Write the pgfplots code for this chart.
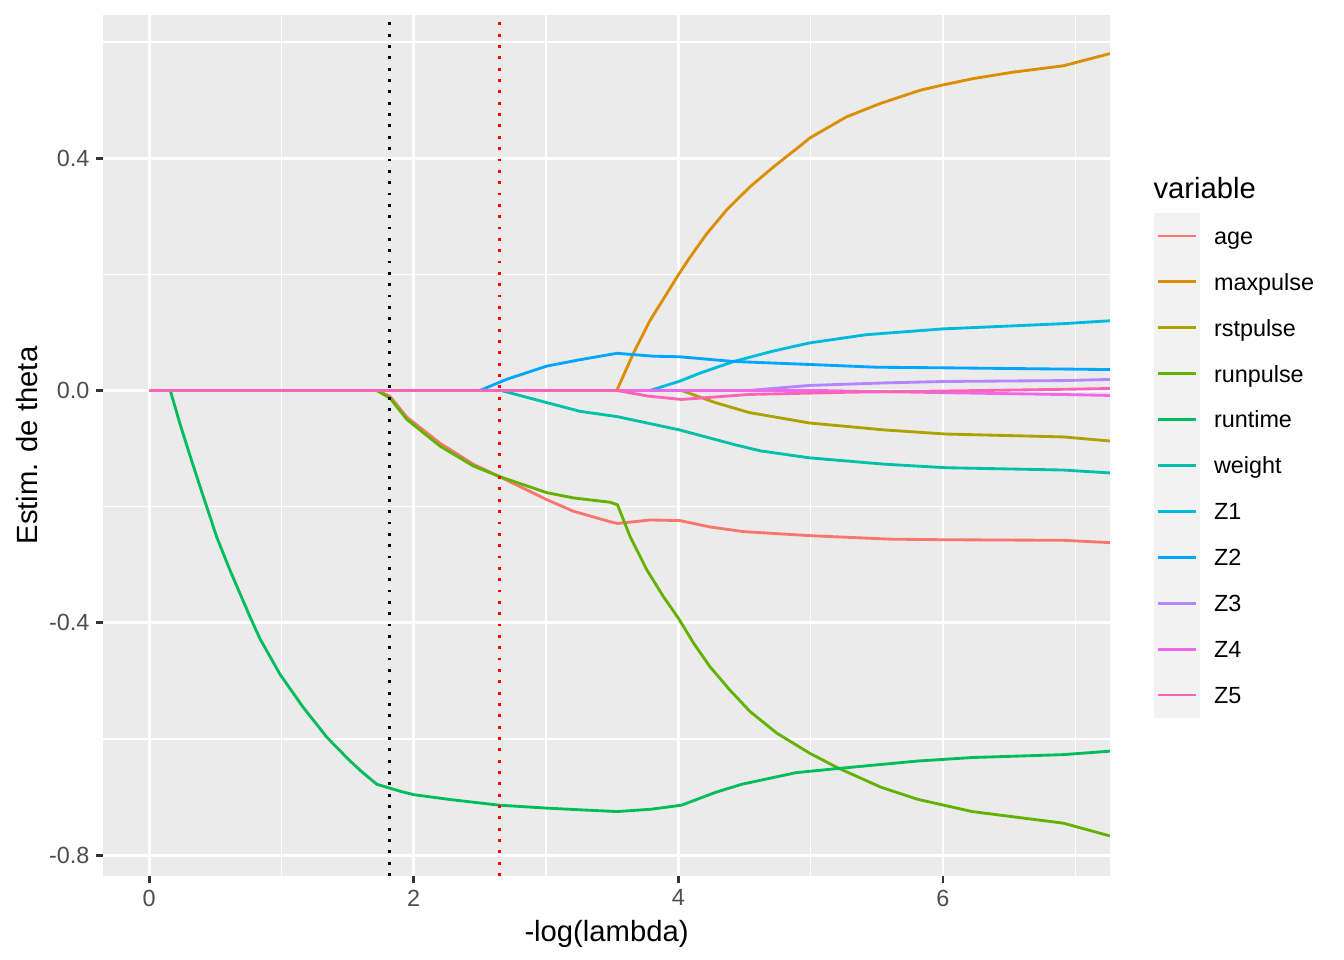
\documentclass[border=0pt]{standalone}
\usepackage{fontspec}
\setmainfont{Liberation Sans}
\usepackage{pgfplots}
\pgfplotsset{compat=1.18}

\definecolor{panelbg}{HTML}{EBEBEB}
\definecolor{keybg}{HTML}{F2F2F2}
\definecolor{gray30}{HTML}{4D4D4D}
\definecolor{gray20}{HTML}{333333}
\definecolor{cage}{HTML}{F8766D}
\definecolor{cmaxpulse}{HTML}{DB8E00}
\definecolor{crstpulse}{HTML}{AEA200}
\definecolor{crunpulse}{HTML}{64B200}
\definecolor{cruntime}{HTML}{00BD5C}
\definecolor{cweight}{HTML}{00C1A7}
\definecolor{cZ1}{HTML}{00BADE}
\definecolor{cZ2}{HTML}{00A6FF}
\definecolor{cZ3}{HTML}{B385FF}
\definecolor{cZ4}{HTML}{EF67EB}
\definecolor{cZ5}{HTML}{FF63B6}

\begin{document}
\begin{tikzpicture}
  % page = 7in x 5in, panel placed at its measured offset
  \path[use as bounding box] (-38.8pt,-31.6pt) rectangle (467.1pt,329.75pt);

  \begin{axis}[
      at={(0,0)}, anchor=south west,
      scale only axis,
      width=379pt, height=324.1pt,
      xmin=-0.348, xmax=7.262,
      ymin=-0.836, ymax=0.6464,
      axis background/.style={fill=panelbg},
      axis line style={draw=none},
      xtick={0,2,4,6}, xticklabels={0,2,4,6},
      ytick={-0.8,-0.4,0,0.4}, yticklabels={-0.8,-0.4,0.0,0.4},
      minor xtick={1,3,5,7},
      minor ytick={-0.6,-0.2,0.2,0.6},
      grid=both,
      major grid style={white, line width=1.07pt},
      minor grid style={white, line width=0.53pt},
      tick align=outside,
      tick pos=left,
      major tick length=2.75pt,
      minor tick length=0pt,
      tick style={gray20, line width=1.07pt},
      ticklabel style={font=\fontsize{8.8}{10.56}\selectfont, text=gray30, inner sep=0pt},
      xticklabel shift=2.2pt,
      yticklabel shift=2.2pt,
      xlabel={-log(lambda)},
      ylabel={Estim. de theta},
      label style={font=\fontsize{11}{13.2}\selectfont},
      xlabel style={at={(axis description cs:0.5,-0.0765)}, anchor=base, inner sep=0pt},
      ylabel style={at={(axis description cs:-0.0654,0.5)}, anchor=base, inner sep=0pt},
      every axis plot/.append style={line width=1.07pt},
      legend cell align=left,
      legend image code/.code={
        \fill[keybg, draw=none] (0pt,-8.64pt) rectangle (17.28pt,8.64pt);
        \draw[#1] (1.6pt,0pt) -- (15.7pt,0pt);
      },
      legend style={
        at={(axis description cs:1.0438,0.770)}, anchor=north west,
        draw=none, fill=none, inner sep=0pt, outer sep=0pt, row sep=0pt,
        font=\fontsize{8.8}{10.56}\selectfont,
        nodes={inner sep=0pt, text height=6.3pt, text depth=0pt},
        /tikz/every odd column/.append style={column sep=5.3pt}
      },
    ]
    % age
    \addplot[cage] coordinates {
      (0,0) (1.72,0) (1.82,-0.010) (1.948,-0.046) (2.2,-0.091) (2.45,-0.127)
      (2.645,-0.148) (3.006,-0.188) (3.207,-0.208) (3.485,-0.226) (3.54,-0.229)
      (3.787,-0.223) (4.01,-0.224) (4.24,-0.235) (4.49,-0.243) (4.996,-0.250)
      (5.6,-0.256) (6.0,-0.257) (6.91,-0.258) (7.262,-0.262)
    };
    \addlegendentry{age}
    % maxpulse
    \addplot[cmaxpulse] coordinates {
      (0,0) (3.535,0) (3.66,0.064) (3.787,0.121) (3.913,0.167) (4.0,0.199)
      (4.09,0.230) (4.215,0.270) (4.366,0.311) (4.543,0.351) (4.72,0.385)
      (4.87,0.412) (4.996,0.435) (5.27,0.471) (5.525,0.494) (5.83,0.517)
      (6.0,0.526) (6.23,0.537) (6.53,0.548) (6.91,0.559) (7.262,0.580)
    };
    \addlegendentry{maxpulse}
    % rstpulse
    \addplot[crstpulse] coordinates {
      (0,0) (4.024,0) (4.28,-0.021) (4.535,-0.038) (4.99,-0.056) (5.56,-0.068)
      (6.02,-0.075) (6.91,-0.080) (7.262,-0.087)
    };
    \addlegendentry{rstpulse}
    % runpulse
    \addplot[crunpulse] coordinates {
      (0,0) (1.72,0) (1.82,-0.013) (1.948,-0.050) (2.2,-0.096) (2.45,-0.130)
      (2.645,-0.148) (3.006,-0.176) (3.207,-0.185) (3.485,-0.1925) (3.54,-0.197)
      (3.636,-0.252) (3.762,-0.309) (3.887,-0.355) (4.0,-0.392) (4.115,-0.435)
      (4.24,-0.476) (4.39,-0.516) (4.543,-0.553) (4.744,-0.590) (4.996,-0.625)
      (5.198,-0.649) (5.53,-0.683) (5.81,-0.704) (6.22,-0.725) (6.91,-0.745)
      (7.262,-0.767)
    };
    \addlegendentry{runpulse}
    % runtime
    \addplot[cruntime] coordinates {
      (0,0) (0.16,0) (0.234,-0.058) (0.31,-0.113) (0.41,-0.183) (0.512,-0.253)
      (0.612,-0.310) (0.763,-0.390) (0.839,-0.428) (0.99,-0.489) (1.166,-0.546)
      (1.343,-0.597) (1.519,-0.638) (1.62,-0.659) (1.721,-0.678)
      (1.897,-0.690) (2.0,-0.696) (2.3,-0.705) (2.645,-0.714) (3.0,-0.719)
      (3.258,-0.722) (3.537,-0.725) (3.794,-0.721) (4.024,-0.714) (4.28,-0.692)
      (4.48,-0.678) (4.89,-0.658) (5.2,-0.651) (5.81,-0.638) (6.22,-0.632)
      (6.91,-0.627) (7.262,-0.621)
    };
    \addlegendentry{runtime}
    % weight
    \addplot[cweight] coordinates {
      (0,0) (2.66,0) (3.006,-0.021) (3.258,-0.036) (3.537,-0.045) (4.01,-0.068)
      (4.42,-0.093) (4.62,-0.104) (4.99,-0.116) (5.56,-0.127) (6.02,-0.133)
      (6.91,-0.137) (7.262,-0.142)
    };
    \addlegendentry{weight}
    % Z1
    \addplot[cZ1] coordinates {
      (0,0) (3.787,0) (4.01,0.016) (4.165,0.030) (4.42,0.050) (4.72,0.068)
      (4.996,0.082) (5.42,0.096) (6.0,0.106) (6.91,0.115) (7.262,0.120)
    };
    \addlegendentry{Z1}
    % Z2
    \addplot[cZ2] coordinates {
      (0,0) (2.50,0) (2.70,0.019) (3.006,0.042) (3.258,0.053) (3.537,0.064)
      (3.81,0.059) (4.01,0.058) (4.41,0.050) (4.996,0.0447) (5.5,0.040)
      (6.0,0.039) (7.262,0.036)
    };
    \addlegendentry{Z2}
    % Z3
    \addplot[cZ3] coordinates {
      (0,0) (4.535,0) (4.99,0.0086) (5.56,0.013) (6.02,0.0155) (6.91,0.017)
      (7.262,0.019)
    };
    \addlegendentry{Z3}
    % Z4
    \addplot[cZ4] coordinates {
      (0,0) (5.04,0) (6.06,-0.004) (6.91,-0.007) (7.262,-0.0086)
    };
    \addlegendentry{Z4}
    % Z5
    \addplot[cZ5] coordinates {
      (0,0) (3.537,0) (3.77,-0.0097) (4.024,-0.0155) (4.535,-0.0069)
      (5.3,-0.003) (6.32,0.0) (6.91,0.002) (7.262,0.0034)
    };
    \addlegendentry{Z5}

    % lambda choices
    \addplot[black, dash pattern=on 1.07pt off 3.2pt, forget plot]
      coordinates {(1.814,-0.836) (1.814,0.6464)};
    \addplot[red, dash pattern=on 1.07pt off 3.2pt, forget plot]
      coordinates {(2.645,-0.836) (2.645,0.6464)};
  \end{axis}

  \node[anchor=base west, inner sep=0pt, font=\fontsize{11}{13.2}\selectfont]
    at (395.2pt,255.2pt) {variable};
\end{tikzpicture}
\end{document}
